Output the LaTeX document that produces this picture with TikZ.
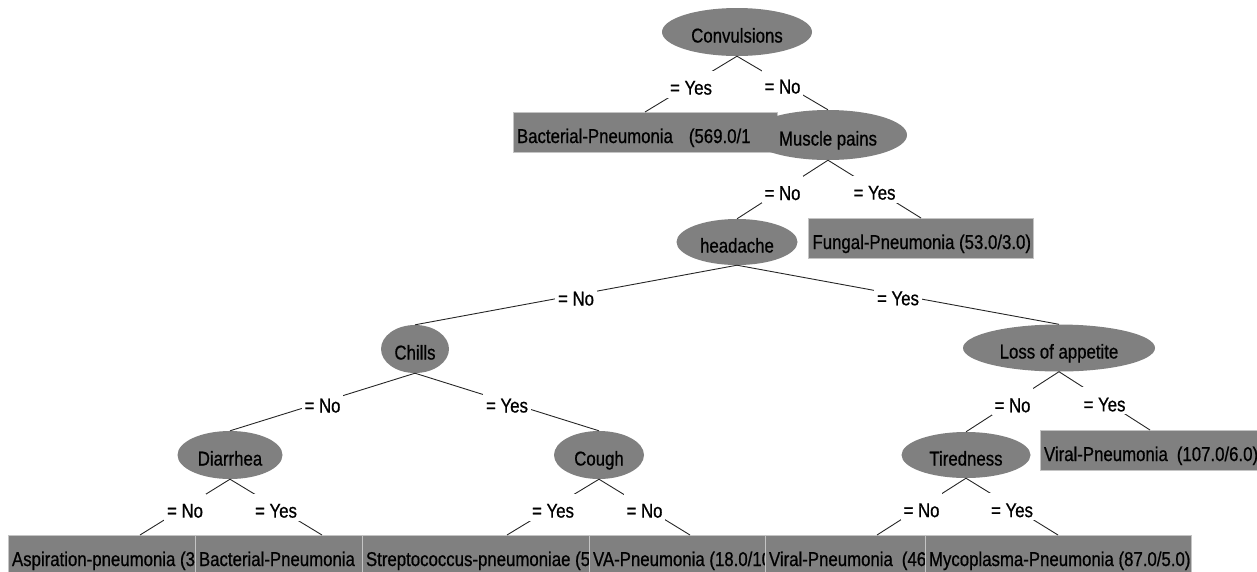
\documentclass[tikz,border=0pt]{standalone}
\usepackage{fontspec}
\setmainfont{Liberation Sans}[FakeStretch=0.84, FakeBold=0.7]
\usetikzlibrary{shapes.geometric}
\definecolor{nodegray}{RGB}{128,128,128}
\definecolor{rimgray}{RGB}{196,196,196}
% left-aligned leaf text in a box of fixed width (overflow sticks out to the right)
\newcommand{\leaftext}[2]{\makebox[\dimexpr#1pt-8pt\relax][l]{#2}}

\begin{document}
\begin{tikzpicture}[x=1pt,y=-1pt,
  font=\fontsize{20}{23}\selectfont,
  every node/.style={text height=21pt, text depth=0pt},
  test/.style={ellipse, fill=nodegray, inner sep=0pt},
  leaf/.style={rectangle, fill=nodegray, draw=rimgray, line width=1pt,
    anchor=north, minimum height=40pt, inner xsep=4pt, inner ysep=0pt},
  branch/.style={draw=black!85, line width=0.9pt},
  cond/.style={fill=white, inner xsep=3pt, inner ysep=3pt}]

\useasboundingbox (0,0) rectangle (1257,571);

% --- decision nodes and leaves (later ones are drawn over earlier ones)
\node[test, minimum width=150pt, minimum height=48pt] (conv) at (737,32) {Convulsions};
\node[leaf] (bact1) at (645,112)
  {\leaftext{264}{Bacterial-Pneumonia\hspace{16pt}(569.0/10}};
\node[test, minimum width=158pt, minimum height=50pt] (muscle) at (828,135) {Muscle pains};
\node[test, minimum width=121pt, minimum height=46pt] (head) at (737,242) {headache};
\node[leaf] (fungal) at (921,218) {\leaftext{225}{Fungal-Pneumonia (53.0/3.0)}};
\node[test, minimum width=68pt, minimum height=48pt] (chills) at (415,349) {Chills};
\node[test, minimum width=192pt, minimum height=47pt] (appetite) at (1059,348) {Loss of appetite};
\node[test, minimum width=105pt, minimum height=48pt] (diarrhea) at (230,455) {Diarrhea};
\node[test, minimum width=90pt, minimum height=48pt] (cough) at (599,455) {Cough};
\node[test, minimum width=129pt, minimum height=46pt] (tired) at (966,455) {Tiredness};
\node[leaf] (viral1) at (1150,430)
  {\leaftext{220}{Viral-Pneumonia\hspace{9pt}(107.0/6.0)}};

\node[leaf] (aspir) at (140,535) {\leaftext{264}{Aspiration-pneumonia (33}};
\node[leaf] (bact2) at (322,535) {\leaftext{254}{Bacterial-Pneumonia}};
\node[leaf] (strep) at (507,535) {\leaftext{290}{Streptococcus-pneumoniae (5}};
\node[leaf] (va) at (690,535) {\leaftext{202}{VA-Pneumonia (18.0/10}};
\node[leaf] (viral2) at (877,535) {\leaftext{224}{Viral-Pneumonia\hspace{9pt}(46}};
\node[leaf] (myco) at (1058,535) {\leaftext{266}{Mycoplasma-Pneumonia (87.0/5.0)}};

% --- branches with their conditions
\draw[branch] (conv.south) -- node[cond] {= Yes} (bact1.north);
\draw[branch] (conv.south) -- node[cond] {= No} (muscle.north);
\draw[branch] (muscle.south) -- node[cond] {= No} (head.north);
\draw[branch] (muscle.south) -- node[cond] {= Yes} (fungal.north);
\draw[branch] (head.south) -- node[cond] {= No} (chills.north);
\draw[branch] (head.south) -- node[cond] {= Yes} (appetite.north);
\draw[branch] (chills.south) -- node[cond] {= No} (diarrhea.north);
\draw[branch] (chills.south) -- node[cond] {= Yes} (cough.north);
\draw[branch] (appetite.south) -- node[cond] {= No} (tired.north);
\draw[branch] (appetite.south) -- node[cond] {= Yes} (viral1.north);
\draw[branch] (diarrhea.south) -- node[cond] {= No} (aspir.north);
\draw[branch] (diarrhea.south) -- node[cond] {= Yes} (bact2.north);
\draw[branch] (cough.south) -- node[cond] {= Yes} (strep.north);
\draw[branch] (cough.south) -- node[cond] {= No} (va.north);
\draw[branch] (tired.south) -- node[cond] {= No} (viral2.north);
\draw[branch] (tired.south) -- node[cond] {= Yes} (myco.north);
\end{tikzpicture}
\end{document}
